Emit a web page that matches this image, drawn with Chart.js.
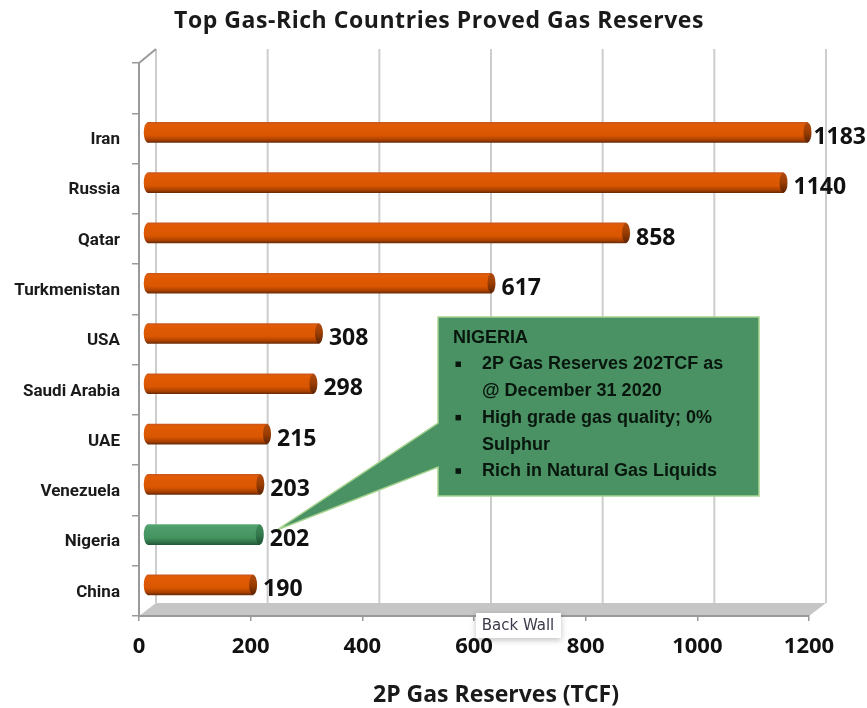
<!DOCTYPE html>
<html>
<head>
<meta charset="utf-8">
<title>Top Gas-Rich Countries Proved Gas Reserves</title>
<style>
  html, body { margin: 0; padding: 0; background: #fff; }
  /* the reference is a soft screenshot */
  canvas { display: block; filter: blur(0.45px); }
</style>
<script src="https://cdn.jsdelivr.net/npm/chart.js@4"></script>
</head>
<body>
<canvas id="chart" width="867" height="708"></canvas>
<script>
// first category is left blank, the reference leaves an empty slot above Iran
var countries = ['', 'Iran', 'Russia', 'Qatar', 'Turkmenistan', 'USA', 'Saudi Arabia', 'UAE', 'Venezuela', 'Nigeria', 'China'];
var reserves = [null, 1183, 1140, 858, 617, 308, 298, 215, 203, 202, 190];
var highlighted = 'Nigeria';
var xTicks = [0, 200, 400, 600, 800, 1000, 1200];
var chartTitle = 'Top Gas-Rich Countries Proved Gas Reserves';
var xTitle = '2P Gas Reserves (TCF)';
var noteTitle = 'NIGERIA';
var noteLines = [
  { text: '2P Gas Reserves 202TCF as', bullet: true },
  { text: '@ December 31 2020', bullet: false },
  { text: 'High grade gas quality; 0%', bullet: true },
  { text: 'Sulphur', bullet: false },
  { text: 'Rich in Natural Gas Liquids', bullet: true }
];

// ── 3D look: bars and back wall sit up and to the right of the axes ──
var BAR_DX = 8, BAR_DY = -6;
var WALL_DX = 17, WALL_DY = -13, WALL_TOP = 49;
var BAR_H = 20, CAP_RX = 4;

var ORANGE = [[0, '#c9571f'], [0.1, '#e25b05'], [0.65, '#da5600'], [0.88, '#a84000'], [1, '#6b2a06']];
var GREEN = [[0, '#5aa877'], [0.1, '#4f9f6c'], [0.65, '#45935f'], [0.88, '#2f7249'], [1, '#235a38']];
var ORANGE_CAP = [[0, '#b04a10'], [0.5, '#9a3d00'], [1, '#5c2305']];
var GREEN_CAP = [[0, '#3f8a5a'], [0.5, '#33784d'], [1, '#1f5233']];

function stops(ctx, y, list) {
  var g = ctx.createLinearGradient(0, y - BAR_H / 2, 0, y + BAR_H / 2);
  list.forEach(function(s) { g.addColorStop(s[0], s[1]); });
  return g;
}

function barFill(c) {
  var y = c.chart.scales.y.getPixelForValue(c.dataIndex);
  if (!isFinite(y)) return '#da5600';
  return stops(c.chart.ctx, y, countries[c.dataIndex] === highlighted ? GREEN : ORANGE);
}

function ellipse(ctx, x, y, rx, fill) {
  ctx.fillStyle = fill;
  ctx.beginPath();
  ctx.ellipse(x, y, rx, BAR_H / 2, 0, 0, Math.PI * 2);
  ctx.fill();
}

var depthPlugin = {
  id: 'depth',
  beforeDraw: function(chart) {
    var ctx = chart.ctx, a = chart.chartArea, x = chart.scales.x;
    ctx.save();
    // back wall grid
    ctx.strokeStyle = '#cdcdcd';
    ctx.lineWidth = 2;
    xTicks.forEach(function(v) {
      var px = x.getPixelForValue(v) + WALL_DX;
      ctx.beginPath();
      ctx.moveTo(px, WALL_TOP);
      ctx.lineTo(px, a.bottom + WALL_DY);
      ctx.stroke();
    });
    // side wall top edge
    ctx.strokeStyle = '#9a9a9a';
    ctx.beginPath();
    ctx.moveTo(a.left, a.top);
    ctx.lineTo(a.left + WALL_DX, WALL_TOP);
    ctx.stroke();
    // floor
    ctx.fillStyle = '#c6c6c6';
    ctx.beginPath();
    ctx.moveTo(a.left, a.bottom);
    ctx.lineTo(a.left + WALL_DX, a.bottom + WALL_DY);
    ctx.lineTo(a.right + WALL_DX, a.bottom + WALL_DY);
    ctx.lineTo(a.right, a.bottom);
    ctx.closePath();
    ctx.fill();
    ctx.restore();
  },
  beforeDatasetDraw: function(chart) {
    chart.ctx.save();
    chart.ctx.translate(BAR_DX, BAR_DY);
  },
  afterDatasetDraw: function(chart, args) {
    var ctx = chart.ctx;
    args.meta.data.forEach(function(bar, i) {
      if (reserves[i] == null) return;
      var green = countries[i] === highlighted;
      ellipse(ctx, bar.base, bar.y, 4, stops(ctx, bar.y, green ? GREEN : ORANGE));
      ellipse(ctx, bar.x, bar.y, CAP_RX, stops(ctx, bar.y, green ? GREEN_CAP : ORANGE_CAP));
    });
    ctx.restore();
  }
};

var textPlugin = {
  id: 'texts',
  afterDatasetsDraw: function(chart) {
    var ctx = chart.ctx;
    var meta = chart.getDatasetMeta(0);
    ctx.save();

    // callout
    ctx.fillStyle = '#4a9264';
    ctx.strokeStyle = '#a6d38f';
    ctx.lineWidth = 1.5;
    ctx.beginPath();
    ctx.moveTo(438, 317);
    ctx.lineTo(759, 317);
    ctx.lineTo(759, 496);
    ctx.lineTo(438, 496);
    ctx.lineTo(438, 467);
    ctx.lineTo(277, 530);
    ctx.lineTo(438, 423);
    ctx.closePath();
    ctx.fill();
    ctx.stroke();

    ctx.fillStyle = '#08160d';
    ctx.textBaseline = 'middle';
    ctx.textAlign = 'left';
    ctx.font = 'bold 18px "Liberation Sans"';
    ctx.fillText(noteTitle, 453, 338);
    noteLines.forEach(function(line, i) {
      var y = 364.5 + i * 26.7;
      if (line.bullet) ctx.fillRect(455.5, y - 3, 5.5, 5.5);
      ctx.fillText(line.text, 482, y);
    });

    // value labels
    ctx.fillStyle = '#111';
    ctx.font = 'bold 23px "Open Sans"';
    meta.data.forEach(function(bar, i) {
      if (reserves[i] == null) return;
      var label = String(reserves[i]);
      var w = ctx.measureText(label).width;
      ctx.fillText(label, Math.min(bar.x + 18, chart.width - w - 1), bar.y - 1);
    });

    // titles
    ctx.textAlign = 'center';
    ctx.fillStyle = '#1a1a1a';
    ctx.letterSpacing = '0.55px';
    ctx.font = 'bold 23px "Open Sans"';
    ctx.fillText(chartTitle, 439, 21);
    ctx.letterSpacing = '0px';
    ctx.fillText(xTitle, 496, 695);

    // the stray hover tag over the axis
    ctx.shadowColor = 'rgba(0,0,0,.25)';
    ctx.shadowBlur = 6;
    ctx.shadowOffsetY = 2;
    ctx.fillStyle = '#fff';
    ctx.fillRect(476, 613, 85, 25);
    ctx.shadowColor = 'transparent';
    ctx.fillStyle = '#3a3a4a';
    ctx.font = '15px "DejaVu Sans"';
    ctx.fillText('Back Wall', 518, 626);
    ctx.restore();
  }
};

new Chart(document.getElementById('chart'), {
  type: 'bar',
  data: {
    labels: countries,
    datasets: [{
      data: reserves,
      backgroundColor: barFill,
      barThickness: BAR_H,
      borderWidth: 0,
      clip: false
    }]
  },
  options: {
    indexAxis: 'y',
    responsive: false,
    animation: false,
    layout: { padding: { top: 63, right: 58 } },
    plugins: {
      legend: { display: false },
      tooltip: { enabled: false }
    },
    scales: {
      x: {
        min: 0,
        max: 1200,
        afterFit: function(s) { s.height = 92; },
        afterBuildTicks: function(s) { s.ticks = xTicks.map(function(v) { return { value: v }; }); },
        border: { color: '#9a9a9a', width: 2 },
        grid: { drawOnChartArea: false, color: '#9a9a9a', tickLength: 5, lineWidth: 1.5 },
        ticks: {
          color: '#111', padding: 13, maxRotation: 0,
          callback: function(v) { return String(v); },
          font: { family: 'Open Sans', size: 22, weight: 'bold' }
        }
      },
      y: {
        afterFit: function(s) { s.width = 139; },
        border: { color: '#9a9a9a', width: 2 },
        grid: { drawOnChartArea: false, offset: true, color: '#9a9a9a', tickLength: 7, lineWidth: 1.5 },
        ticks: { color: '#1a1a1a', padding: 12, labelOffset: 1.5, autoSkip: false, font: { family: 'Roboto', size: 17, weight: 'bold' } }
      }
    }
  },
  plugins: [depthPlugin, textPlugin]
});
</script>
</body>
</html>
